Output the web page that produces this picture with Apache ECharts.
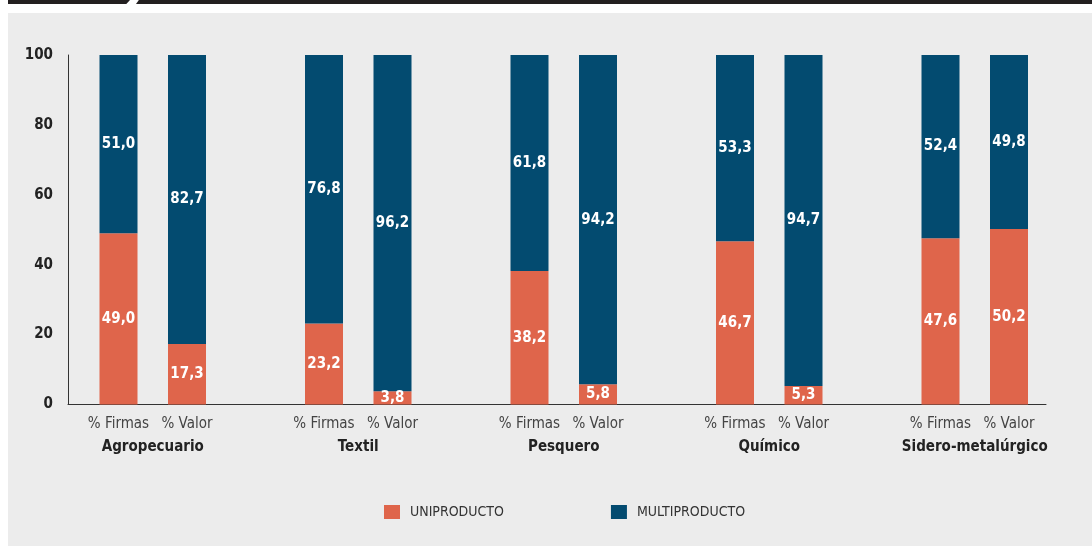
<!DOCTYPE html>
<html>
<head>
<meta charset="utf-8">
<script src="https://cdn.jsdelivr.net/npm/echarts@6/dist/echarts.min.js"></script>
<style>
  html, body { margin: 0; padding: 0; background: #ffffff; }
  #wrap { position: relative; width: 1092px; height: 546px; overflow: hidden; }
  #panel { position: absolute; left: 8px; top: 13px; width: 1084px; height: 533px; background: #ececec; }
  #barL { position: absolute; left: 8px; top: 0; width: 122px; height: 4px; background: #231f20;
          clip-path: polygon(0 0, 100% 0, 97% 100%, 0 100%); }
  #barR { position: absolute; left: 136px; top: 0; width: 956px; height: 4px; background: #231f20;
          clip-path: polygon(0.3% 0, 100% 0, 100% 100%, 0 100%); }
  #chart { position: absolute; left: 0; top: 0; width: 1092px; height: 546px; }
</style>
</head>
<body>
<div id="wrap">
  <div id="panel"></div>
  <div id="barL"></div>
  <div id="barR"></div>
  <div id="chart"></div>
</div>
<script>
// ---- data ----
const categories = ['% Firmas', '% Valor', '', '% Firmas', '% Valor', '', '% Firmas', '% Valor', '', '% Firmas', '% Valor', '', '% Firmas', '% Valor'];
const groups = ['Agropecuario', 'Textil', 'Pesquero', 'Químico', 'Sidero-metalúrgico'];
const uniproducto = [49.0, 17.3, null, 23.2, 3.8, null, 38.2, 5.8, null, 46.7, 5.3, null, 47.6, 50.2];
const multiproducto = [51.0, 82.7, null, 76.8, 96.2, null, 61.8, 94.2, null, 53.3, 94.7, null, 52.4, 49.8];
const seriesNames = ['UNIPRODUCTO', 'MULTIPRODUCTO'];

// group labels sit on the boundaries between the two bars of each group
const groupAxis = [];
for (let i = 0; i <= categories.length; i++) groupAxis.push('');
groups.forEach((g, k) => { groupAxis[1 + k * 3] = g; });

const FONT = "'Liberation Sans Narrow', 'DejaVu Sans Condensed', 'Roboto', sans-serif";
const fmt = p => (p.value == null ? '' : Number(p.value).toFixed(1).replace('.', ','));

const chart = echarts.init(document.getElementById('chart'), null, { renderer: 'canvas' });
chart.setOption({
  backgroundColor: 'transparent',
  animation: false,
  textStyle: { fontFamily: FONT },
  grid: [
    { left: 68, right: 46, top: 55, bottom: 141.5 },
    { left: 84.25, right: 48.75, top: 55, bottom: 141.5 }
  ],
  legend: {
    left: 379, top: 500,
    itemWidth: 16, itemHeight: 14, itemGap: 107,
    icon: 'rect',
    data: seriesNames,
    textStyle: { fontFamily: FONT, fontSize: 14, color: '#333', padding: [0, 0, 0, 5] }
  },
  xAxis: [
    { type: 'value', gridIndex: 0, min: 0, max: 1,
      axisLine: { show: true, lineStyle: { color: '#333', width: 1 } },
      axisTick: { show: false }, axisLabel: { show: false }, splitLine: { show: false } },
    { type: 'category', gridIndex: 1, position: 'bottom', data: categories,
      axisLine: { show: false }, axisTick: { show: false },
      axisLabel: { interval: 0, margin: 12, fontFamily: FONT, fontSize: 15, color: '#444' } },
    { type: 'category', gridIndex: 1, position: 'bottom', data: groupAxis, boundaryGap: false,
      axisLine: { show: false }, axisTick: { show: false },
      axisLabel: { interval: 0, margin: 35, fontFamily: FONT, fontSize: 15, fontWeight: 'bold', color: '#222' } }
  ],
  yAxis: [
    { type: 'value', gridIndex: 0, min: 0, max: 100, interval: 20,
      axisLine: { show: true, lineStyle: { color: '#333', width: 1 } },
      axisTick: { show: false }, splitLine: { show: false },
      axisLabel: { margin: 15, fontFamily: FONT, fontSize: 15, fontWeight: 'bold', color: '#222' } },
    { type: 'value', gridIndex: 1, min: 0, max: 100, show: false, splitLine: { show: false } }
  ],
  series: [
    { name: seriesNames[0], type: 'bar', stack: 'a', xAxisIndex: 1, yAxisIndex: 1,
      barWidth: 38, data: uniproducto, itemStyle: { color: '#df654b' },
      label: { show: true, position: 'inside', formatter: fmt, color: '#fff',
               fontFamily: FONT, fontSize: 15, fontWeight: 'bold' } },
    { name: seriesNames[1], type: 'bar', stack: 'a', xAxisIndex: 1, yAxisIndex: 1,
      barWidth: 38, data: multiproducto, itemStyle: { color: '#034b70' },
      label: { show: true, position: 'inside', formatter: fmt, color: '#fff',
               fontFamily: FONT, fontSize: 15, fontWeight: 'bold' } }
  ]
});
</script>
</body>
</html>
